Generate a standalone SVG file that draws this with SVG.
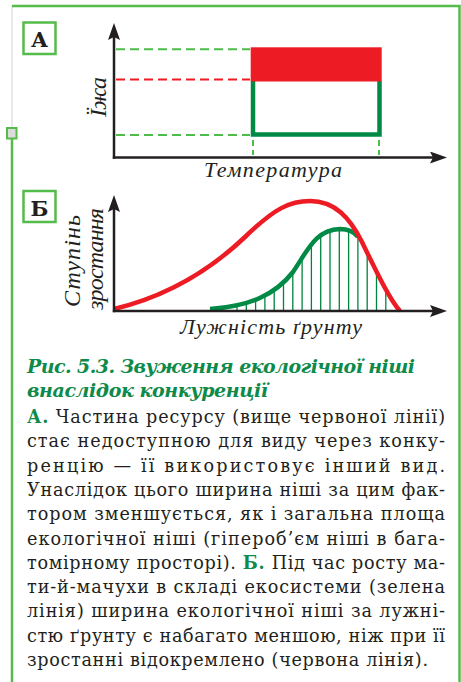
<svg xmlns="http://www.w3.org/2000/svg" width="461" height="682" viewBox="0 0 461 682">
<style>
.frame{fill:none;stroke:#55bb4a;stroke-width:2.5}
.lbox{fill:#fff;stroke:#55bb4a;stroke-width:2.5}
.lbl{font-family:"DejaVu Serif","Liberation Serif",serif;font-weight:bold;font-size:21px;fill:#231f20}
.axis{fill:none;stroke:#231f20;stroke-width:2.5}
.ax{font-family:"Liberation Serif","DejaVu Serif",serif;font-style:italic;font-size:24px;fill:#231f20}
.axh{font-family:"Liberation Serif","DejaVu Serif",serif;font-style:italic;font-size:22px;fill:#231f20}
.dg{fill:none;stroke:#4dbd4a;stroke-width:2;stroke-dasharray:9 5}
.dr{fill:none;stroke:#ed1c24;stroke-width:2;stroke-dasharray:9 5}
.cap{font-family:"DejaVu Serif","Liberation Serif",serif;font-style:italic;font-weight:bold;font-size:19px;fill:#0e8a4a}
.body{font-family:"DejaVu Serif","Liberation Serif",serif;font-size:17.6px;fill:#231f20}
.hl{font-weight:bold;fill:#0e8a4a}
.hatch{stroke:#00843d;stroke-width:1.3}
</style>
<defs>
<marker id="arr" viewBox="0 0 17 12" refX="3" refY="6" markerWidth="17" markerHeight="12" orient="auto" markerUnits="userSpaceOnUse">
<path d="M0,0 L17,6 L0,12 L3,6 Z" fill="#231f20"/>
</marker>
<clipPath id="redArea"><path d="M114,312 L114,309 C160,298 205,275 245,237 C275,208 290,201 310,201 C335,201 350,218 362,242 C378,275 390,300 400,311 L400,312 Z"/></clipPath>
<clipPath id="greenArea"><path d="M200,312 L210,312 L210,309 C250,306 275,295 293,272 C308,250 315,230 340,229 C350,229 355,233 358,237 L358,190 L420,190 L420,312 Z"/></clipPath>
</defs>
<rect width="461" height="682" fill="#fff"/>
<g id="frame">
<line x1="12" y1="6" x2="12" y2="128" stroke="#e8e8e8" stroke-width="2"/>
<path class="frame" d="M12,6 H459.5 V682"/>
<path class="frame" d="M12,139 V682"/>
<rect x="7" y="128" width="9.5" height="10.5" fill="#dcdcdc" stroke="#55bb4a" stroke-width="2"/>
</g>
<g id="panel-A">
<rect class="lbox" x="23.5" y="22.5" width="32" height="31.5"/>
<text class="lbl" x="39.5" y="47" text-anchor="middle">А</text>
<line class="dg" x1="116" y1="49.3" x2="250" y2="49.3"/>
<line class="dr" x1="116" y1="79.5" x2="250" y2="79.5"/>
<line class="dg" x1="116" y1="135" x2="250" y2="135"/>
<line class="dg" x1="253" y1="140" x2="253" y2="155" style="stroke-dasharray:6 4"/>
<line class="dg" x1="379" y1="140" x2="379" y2="155" style="stroke-dasharray:6 4"/>
<path d="M253,81 V134.5 H379.5 V81" fill="none" stroke="#008a45" stroke-width="4.5"/>
<rect x="250.7" y="47.3" width="131" height="34.2" fill="#ed1c24"/>
<line class="axis" x1="114" y1="158.7" x2="114" y2="37" marker-end="url(#arr)"/>
<line class="axis" x1="112.8" y1="157.5" x2="433" y2="157.5" marker-end="url(#arr)"/>
<text class="ax" transform="translate(106,97) rotate(-90)" text-anchor="middle" textLength="40" lengthAdjust="spacing">Їжа</text>
<text class="axh" x="273" y="177" text-anchor="middle" textLength="138" lengthAdjust="spacing">Температура</text>
</g>
<g id="panel-B">
<rect class="lbox" x="23.5" y="191" width="32" height="31"/>
<text class="lbl" x="39.5" y="215.5" text-anchor="middle">Б</text>
<g clip-path="url(#redArea)"><g clip-path="url(#greenArea)">
<line class="hatch" x1="237" y1="190" x2="237" y2="311"/>
<line class="hatch" x1="246.3" y1="190" x2="246.3" y2="311"/>
<line class="hatch" x1="255.6" y1="190" x2="255.6" y2="311"/>
<line class="hatch" x1="264.9" y1="190" x2="264.9" y2="311"/>
<line class="hatch" x1="274.2" y1="190" x2="274.2" y2="311"/>
<line class="hatch" x1="283.5" y1="190" x2="283.5" y2="311"/>
<line class="hatch" x1="292.8" y1="190" x2="292.8" y2="311"/>
<line class="hatch" x1="302.1" y1="190" x2="302.1" y2="311"/>
<line class="hatch" x1="311.4" y1="190" x2="311.4" y2="311"/>
<line class="hatch" x1="320.7" y1="190" x2="320.7" y2="311"/>
<line class="hatch" x1="330" y1="190" x2="330" y2="311"/>
<line class="hatch" x1="339.3" y1="190" x2="339.3" y2="311"/>
<line class="hatch" x1="348.6" y1="190" x2="348.6" y2="311"/>
<line class="hatch" x1="357.9" y1="190" x2="357.9" y2="311"/>
<line class="hatch" x1="367.2" y1="190" x2="367.2" y2="311"/>
<line class="hatch" x1="376.5" y1="190" x2="376.5" y2="311"/>
<line class="hatch" x1="385.8" y1="190" x2="385.8" y2="311"/>
</g></g>
<path d="M210,309 C250,306 275,295 293,272 C308,250 315,230 340,229 C350,229 355,233 358,237" fill="none" stroke="#008a45" stroke-width="4.5"/>
<path d="M114,309 C160,298 205,275 245,237 C275,208 290,201 310,201 C335,201 350,218 362,242 C378,275 390,300 400,311" fill="none" stroke="#ed1c24" stroke-width="4.5"/>
<line class="axis" x1="114" y1="312.2" x2="114" y2="209" marker-end="url(#arr)"/>
<line class="axis" x1="112.8" y1="311" x2="433" y2="311" marker-end="url(#arr)"/>
<text class="ax" transform="translate(80,261) rotate(-90)" text-anchor="middle" textLength="92" lengthAdjust="spacing">Ступінь</text>
<text class="ax" transform="translate(103,259) rotate(-90)" text-anchor="middle" textLength="102" lengthAdjust="spacing">зростання</text>
<text class="axh" x="271" y="334" text-anchor="middle" textLength="182" lengthAdjust="spacing">Лужність ґрунту</text>
</g>
<g id="caption">
<text class="cap" x="27" y="373" textLength="388" lengthAdjust="spacing">Рис. 5.3. Звуження екологічної ніші</text>
<text class="cap" x="27" y="397" textLength="241" lengthAdjust="spacing">внаслідок конкуренції</text>
</g>
<g id="description">
<text class="body" x="27" y="423" textLength="418" lengthAdjust="spacing"><tspan class="hl">А.</tspan> Частина ресурсу (вище червоної лінії)</text>
<text class="body" x="27" y="447.3" textLength="418" lengthAdjust="spacing">стає недоступною для виду через конку-</text>
<text class="body" x="27" y="471.6" textLength="418" lengthAdjust="spacing">ренцію — її використовує інший вид.</text>
<text class="body" x="27" y="495.9" textLength="418" lengthAdjust="spacing">Унаслідок цього ширина ніші за цим фак-</text>
<text class="body" x="27" y="520.2" textLength="418" lengthAdjust="spacing">тором зменшується, як і загальна площа</text>
<text class="body" x="27" y="544.5" textLength="418" lengthAdjust="spacing">екологічної ніші (гіпероб’єм ніші в бага-</text>
<text class="body" x="27" y="568.8" textLength="418" lengthAdjust="spacing">томірному просторі). <tspan class="hl">Б.</tspan> Під час росту ма-</text>
<text class="body" x="27" y="593.1" textLength="418" lengthAdjust="spacing">ти-й-мачухи в складі екосистеми (зелена</text>
<text class="body" x="27" y="617.4" textLength="418" lengthAdjust="spacing">лінія) ширина екологічної ніші за лужні-</text>
<text class="body" x="27" y="641.7" textLength="418" lengthAdjust="spacing">стю ґрунту є набагато меншою, ніж при її</text>
<text class="body" x="27" y="666" textLength="401" lengthAdjust="spacing">зростанні відокремлено (червона лінія).</text>
</g>
</svg>
